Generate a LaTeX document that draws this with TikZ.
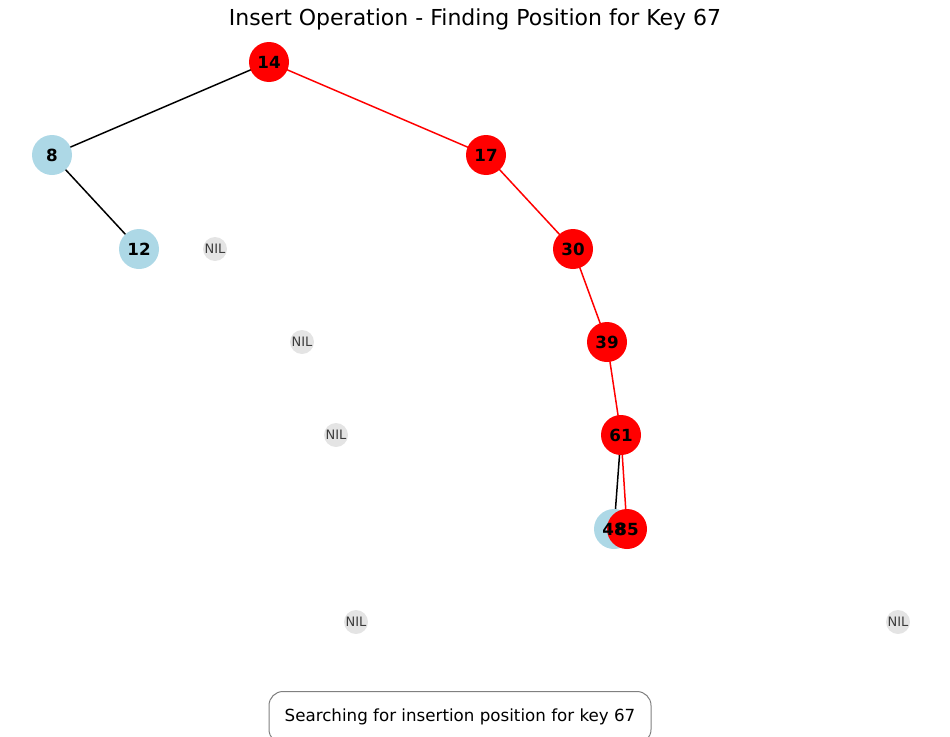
\documentclass[tikz,border=0pt]{standalone}
\usepackage{fontspec}
\setmainfont{DejaVu Sans}
\begin{document}
\begin{tikzpicture}[x=1pt,y=-1pt,
  rb/.style={circle,fill=red,draw=none,minimum size=40pt,inner sep=0pt,font=\fontsize{16.7}{18}\selectfont\bfseries},
  lb/.style={circle,fill={rgb,255:red,173;green,216;blue,230},draw=none,minimum size=40pt,inner sep=0pt,font=\fontsize{16.7}{18}\selectfont\bfseries},
  nil/.style={circle,fill={rgb,255:red,228;green,228;blue,228},draw=none,minimum size=24pt,inner sep=0pt,text={rgb,255:red,60;green,60;blue,60},font=\fontsize{13}{14}\selectfont},
  be/.style={black,line width=1.5pt},
  re/.style={red,line width=1.5pt}]
\useasboundingbox (0,0) rectangle (950,736);
\clip (0,0) rectangle (950,736);
\coordinate (c14) at (269,62);
\coordinate (c8) at (52,155);
\coordinate (c17) at (486,155);
\coordinate (c12) at (139,249);
\coordinate (c30) at (573,249);
\coordinate (c39) at (607,342);
\coordinate (c61) at (621,435);
\coordinate (c48) at (614,529);
\coordinate (c85) at (627,529);
% edges
\draw[be] (c14) -- (c8);
\draw[be] (c8) -- (c12);
\draw[re] (c14) -- (c17);
\draw[re] (c17) -- (c30);
\draw[re] (c30) -- (c39);
\draw[re] (c39) -- (c61);
\draw[be] (c61) -- (c48);
\draw[re] (c61) -- (c85);
% nodes
\node[rb] (n14) at (c14) {};
\node[lb] (n8) at (c8) {};
\node[rb] (n17) at (c17) {};
\node[lb] (n12) at (c12) {};
\node[rb] (n30) at (c30) {};
\node[rb] (n39) at (c39) {};
\node[rb] (n61) at (c61) {};
\node[lb] (n48) at (c48) {};
\node[rb] (n85) at (c85) {};
\node[nil] (nil1) at (215,249) {NIL};
\node[nil] (nil2) at (302,342) {NIL};
\node[nil] (nil3) at (336,435) {NIL};
\node[nil] (nil4) at (356,622) {NIL};
\node[nil] (nil5) at (898,622) {NIL};
% labels
\foreach \n/\t in {14/14,8/8,17/17,12/12,30/30,39/39,61/61,48/48,85/85}
  \node[font=\fontsize{16.7}{18}\selectfont\bfseries,inner sep=0pt] (l\n) at (c\n) {\t};
% title
\node[font=\fontsize{22}{24}\selectfont] (title) at (475,19) {Insert Operation - Finding Position for Key 67};
% status box
\node[draw={rgb,255:red,128;green,128;blue,128},line width=1pt,rounded corners=14pt,fill=white,
  minimum width=382pt,minimum height=52pt,font=\fontsize{16.7}{18}\selectfont,anchor=north] (status) at (460,691) {};
\node[font=\fontsize{16.7}{18}\selectfont] (stext) at (460,717) {Searching for insertion position for key 67};
\end{tikzpicture}
\end{document}
